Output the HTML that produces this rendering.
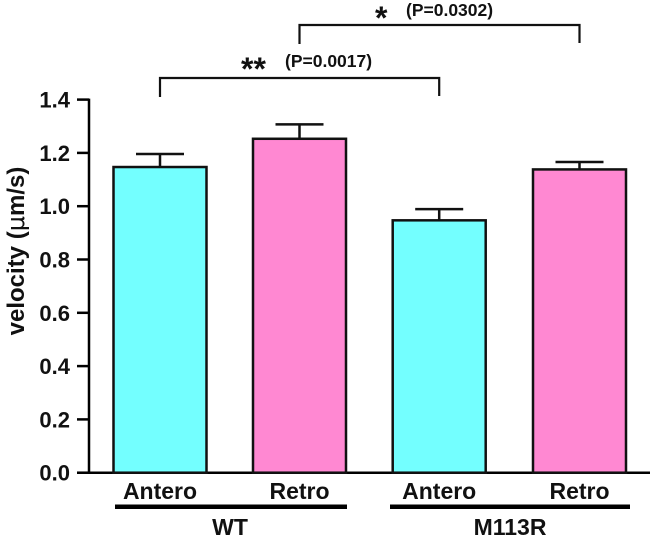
<!DOCTYPE html>
<html><head><meta charset="utf-8"><style>
html,body{margin:0;padding:0;background:#fff;}
svg{display:block;font-family:"Liberation Sans",Arial,sans-serif;font-weight:bold;}
</style></head><body>
<svg id="chart" width="650" height="537" viewBox="0 0 650 537" xmlns="http://www.w3.org/2000/svg">
<g id="g"></g>
</svg>
<script>
const categories = ["Antero","Retro","Antero","Retro"];
const groups = ["WT","WT","M113R","M113R"];
const values = [1.147, 1.253, 0.947, 1.138];
const errors = [0.049, 0.054, 0.042, 0.028];
const yTicks = [0.0,0.2,0.4,0.6,0.8,1.0,1.2,1.4];
const yTickLabels = ["0.0","0.2","0.4","0.6","0.8","1.0","1.2","1.4"];
const colors = ["#73ffff","#ff88d2","#73ffff","#ff88d2"];
const NS="http://www.w3.org/2000/svg";
const g=document.getElementById('g');
const y0=472.7, yPerUnit=266.5;
function y(v){return y0-v*yPerUnit;}
const barLeft=[113.5,253,392.7,533], barW=93;
function xc(i){return barLeft[i]+barW/2;}
function mk(tag,attrs,parent){const e=document.createElementNS(NS,tag);for(const k in attrs)e.setAttribute(k,attrs[k]);(parent||g).appendChild(e);return e;}
let e=mk('line',{x1:89,y1:y(1.4)-1,x2:89,y2:y0+1,stroke:'#000','stroke-width':2.5});


e=mk('line',{x1:77,y1:y0,x2:650,y2:y0,stroke:'#000','stroke-width':2.5});


yTicks.forEach((t,i)=>{
  let l=mk('line',{x1:77,y1:y(t),x2:89,y2:y(t),stroke:'#000','stroke-width':2.5});
  
  
  let tx=mk('text',{x:70,y:y(t)+8,'text-anchor':'end','font-size':22,fill:'#111'});
  tx.textContent=yTickLabels[i];
  
  
});
let yl=mk('text',{x:0,y:0,'text-anchor':'middle','font-size':24,fill:'#111',transform:'translate(24,251) rotate(-90)'});
yl.innerHTML='velocity (<tspan font-family="DejaVu Sans" font-weight="normal">μ</tspan>m/s)';


values.forEach((v,i)=>{
  let r=mk('rect',{x:barLeft[i],y:y(v),width:barW,height:y0-y(v),fill:colors[i],stroke:'#111','stroke-width':2.5});
  
  
  let top=y(v+errors[i]);
  let el=mk('path',{d:`M${xc(i)},${y(v)} V${top} M${xc(i)-24},${top} H${xc(i)+24}`,stroke:'#111','stroke-width':2.5,fill:'none'});
  
  
  let t=mk('text',{x:xc(i),y:499,'text-anchor':'middle','font-size':23,fill:'#111'});
  t.textContent=categories[i];
  
  
});
[[115,347,"WT",230],[390,630,"M113R",510]].forEach(a=>{
  let r=mk('rect',{x:a[0],y:504.5,width:a[1]-a[0],height:4.5,fill:'#000'});
  
  
  let t=mk('text',{x:a[3],y:535,'text-anchor':'middle','font-size':23,fill:'#111'});
  t.textContent=a[2];
  
  
});
let b=mk('path',{d:`M${xc(0)},97 V78 H${xc(2)} V96`,stroke:'#111','stroke-width':2.2,fill:'none'});


b=mk('path',{d:`M${xc(1)},44 V25 H${xc(3)} V43`,stroke:'#111','stroke-width':2.2,fill:'none'});


let s=mk('text',{x:241,y:80,'font-size':32,fill:'#111'});s.textContent='**';


s=mk('text',{x:285,y:67,'font-size':17.5,fill:'#111'});s.textContent='(P=0.0017)';


s=mk('text',{x:375,y:29,'font-size':32,fill:'#111'});s.textContent='*';


s=mk('text',{x:406,y:16,'font-size':17.5,fill:'#111'});s.textContent='(P=0.0302)';


</script>
</body></html>
